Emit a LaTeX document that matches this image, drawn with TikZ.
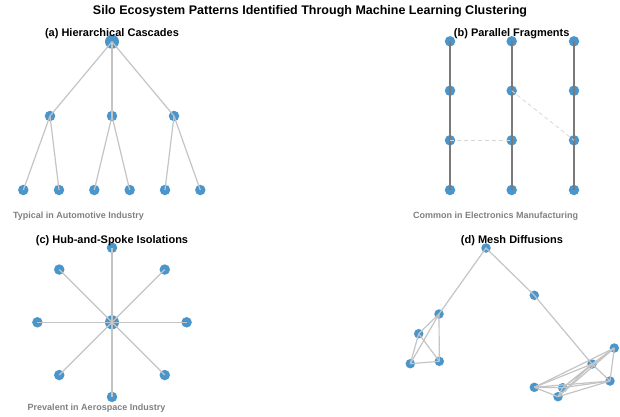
\documentclass[tikz,border=0pt]{standalone}
\usepackage{fontspec}
\setmainfont{Liberation Sans}
\usepackage{tikz}
\usetikzlibrary{positioning,calc}
\definecolor{dotblue}{HTML}{4A96CB}
\definecolor{edgegray}{HTML}{C4C4C4}
\definecolor{chaingray}{HTML}{7A7A7A}
\definecolor{notegray}{HTML}{808080}

\tikzset{
  dot/.style={circle,fill=dotblue,inner sep=0pt,minimum size=10.5pt},
  bigdot/.style={dot,minimum size=14pt},
  link/.style={edgegray,line width=1.2pt},
  chain/.style={chaingray,line width=2pt},
  weak/.style={edgegray!70,line width=0.8pt,dash pattern=on 4pt off 3pt},
  paneltitle/.style={font=\fontsize{11}{12}\selectfont\bfseries},
  note/.style={font=\fontsize{9}{10}\selectfont\bfseries,text=notegray,anchor=west}
}

\begin{document}
\begin{tikzpicture}[x=1pt,y=-1pt]
  \useasboundingbox (0,0) rectangle (620,416);
  \node (title) at (310,11) {\fontsize{12.5}{14}\selectfont\bfseries Silo Ecosystem Patterns Identified Through Machine Learning Clustering};

  % (a) hierarchical cascades
  \node [bigdot] (root) at (112,41.7) {};
  \node [dot] (m1) at (50,116) {};
  \node [dot] (m2) at (112,116) {};
  \node [dot] (m3) at (174,116) {};
  \foreach \i/\x in {1/23.3,2/59,3/94.3,4/129.7,5/165,6/200.3}
    \node [dot] (l\i) at (\x,190) {};
  \foreach \m in {m1,m2,m3}
    \draw [link] (root.center) -- (\m.center);
  \foreach \m/\a/\b in {m1/l1/l2,m2/l3/l4,m3/l5/l6} {
    \draw [link] (\m.center) -- (\a.center);
    \draw [link] (\m.center) -- (\b.center);
  }
  \node [paneltitle] (ta) at (112,34) {(a) Hierarchical Cascades};
  \node [note] (na) at (9.5,215.7) {Typical in Automotive Industry};

  % (b) parallel fragments
  \foreach \c/\x in {1/450,2/511.7,3/574}
    \foreach \r/\y in {1/41.3,2/90.7,3/140.3,4/190}
      \node [dot] (p\c\r) at (\x,\y) {};
  \foreach \c in {1,2,3}
    \draw [chain] (p\c1.center) -- (p\c2.center) -- (p\c3.center) -- (p\c4.center);
  \draw [weak] (p13.center) -- (p23.center);
  \draw [weak] (p22.center) -- (p33.center);
  \node [paneltitle] (tb) at (511.7,34) {(b) Parallel Fragments};
  \node [note] (nb) at (409.5,215.7) {Common in Electronics Manufacturing};

  % (c) hub-and-spoke isolations
  \node [bigdot] (hub) at (112,322.3) {};
  \foreach \k in {0,...,7}
    \node [dot] (s\k) at ($(112,322.3)+(\k*45:74.6)$) {};
  \foreach \k in {0,...,7}
    \draw [link] (hub.center) -- (s\k.center);
  \node [paneltitle] (tc) at (112,240.3) {(c) Hub-and-Spoke Isolations};
  \node [note] (nc) at (24.2,408) {Prevalent in Aerospace Industry};

  % (d) mesh diffusions
  \node [dot,minimum size=9.5pt] (top) at (486,248) {};
  \node [dot,minimum size=9.5pt] (mid) at (534.3,295.3) {};
  \node [dot,minimum size=9.5pt] (a1) at (439,314) {};
  \node [dot,minimum size=9.5pt] (a2) at (418.7,333.7) {};
  \node [dot,minimum size=9.5pt] (a3) at (410.3,363.7) {};
  \node [dot,minimum size=9.5pt] (a4) at (439.3,361.3) {};
  \node [dot,minimum size=9.5pt] (b1) at (592,364) {};
  \node [dot,minimum size=9.5pt] (b2) at (614.3,348) {};
  \node [dot,minimum size=9.5pt] (b3) at (610,381) {};
  \node [dot,minimum size=9.5pt] (b4) at (534.3,387.3) {};
  \node [dot,minimum size=9.5pt] (b5) at (562.7,387.7) {};
  \node [dot,minimum size=9.5pt] (b6) at (558,396.7) {};
  \draw [link] (a1.center) -- (top.center) -- (mid.center) -- (b1.center);
  \foreach \u/\v in {a1/a2,a1/a3,a1/a4,a2/a3,a2/a4,a3/a4}
    \draw [link] (\u.center) -- (\v.center);
  \foreach \u/\v in {b1/b2,b1/b3,b1/b4,b1/b5,b1/b6,b2/b3,b2/b4,b2/b5,b2/b6,b3/b4,b3/b5,b3/b6,b4/b5,b4/b6,b5/b6}
    \draw [link] (\u.center) -- (\v.center);
  \node [paneltitle] (td) at (512,240.3) {(d) Mesh Diffusions};
\end{tikzpicture}
\end{document}
